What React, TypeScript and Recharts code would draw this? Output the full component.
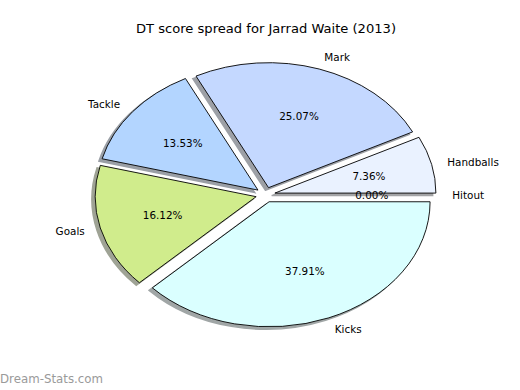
import React from 'react';
import { PieChart, Pie, Cell } from 'recharts';

// DT points per stat for the season, order follows matplotlib's counter-clockwise draw from 0deg
const CATEGORIES = ['Hitout', 'Handballs', 'Mark', 'Tackle', 'Goals', 'Kicks'];
const POINTS = [0, 74, 252, 136, 162, 381];

const COLORS = ['#d8e4ff', '#eaf2ff', '#c4d8ff', '#b3d5ff', '#d0ec8c', '#daffff'];

const data = CATEGORIES.map((name, i) => ({ name, value: POINTS[i] }));

const CX = 265.5;
const CY = 194.8;
const RX = 161;
const RY = 125;
const EXPLODE = 0.06;
const RAD = Math.PI / 180;

function shadowColor(hex: string) {
  const n = parseInt(hex.slice(1), 16);
  const ch = [(n >> 16) & 255, (n >> 8) & 255, n & 255].map((c) => Math.round(c * 0.3 * 0.5 + 255 * 0.5));
  return `rgb(${ch[0]},${ch[1]},${ch[2]})`;
}

function wedgePath(cx: number, cy: number, rx: number, ry: number, start: number, end: number) {
  const x1 = cx + rx * Math.cos(start * RAD);
  const y1 = cy - ry * Math.sin(start * RAD);
  if (Math.abs(end - start) < 1e-6) return `M${cx},${cy}L${x1},${y1}Z`;
  const x2 = cx + rx * Math.cos(end * RAD);
  const y2 = cy - ry * Math.sin(end * RAD);
  const large = Math.abs(end - start) > 180 ? 1 : 0;
  return `M${cx},${cy}L${x1},${y1}A${rx},${ry} 0 ${large} 0 ${x2},${y2}Z`;
}

function offsetOf(mid: number) {
  return { dx: EXPLODE * RX * Math.cos(mid * RAD), dy: -EXPLODE * RY * Math.sin(mid * RAD) };
}

const makeShape = (shadow: boolean) => (props: any) => {
  const { cx, cy, outerRadius, startAngle, endAngle, midAngle, fill } = props;
  const rx = outerRadius;
  const ry = outerRadius * (RY / RX);
  const { dx, dy } = offsetOf(midAngle);
  const sx = shadow ? -0.02 * RX : 0;
  const sy = shadow ? 0.02 * RY : 0;
  const d = wedgePath(cx + dx + sx, cy + dy + sy, rx, ry, startAngle, endAngle);
  if (shadow) return <path d={d} fill={shadowColor(fill)} stroke={shadowColor(fill)} strokeWidth={1.5} />;
  return <path d={d} fill={fill} stroke="#000" strokeWidth={0.9} strokeLinejoin="round" />;
};

const renderLabel = (props: any) => {
  const { cx, cy, midAngle, outerRadius, percent, name } = props;
  const cos = Math.cos(midAngle * RAD);
  const sin = Math.sin(midAngle * RAD);
  const rx = outerRadius;
  const ry = outerRadius * (RY / RX);
  const { dx, dy } = offsetOf(midAngle);
  const lx = cx + dx + 1.1 * rx * cos;
  const ly = cy + dy - 1.1 * ry * sin;
  const px = cx + dx + 0.6 * rx * cos;
  const py = cy + dy - 0.6 * ry * sin;
  return (
    <g style={{ fontFamily: 'DejaVu Sans', fontSize: 10.4 }}>
      <text x={lx} y={ly} textAnchor={cos >= 0 ? 'start' : 'end'} dominantBaseline="central" fill="#000">
        {name}
      </text>
      <text x={px} y={py} textAnchor="middle" dominantBaseline="central" fill="#000">
        {(percent * 100).toFixed(2)}%
      </text>
    </g>
  );
};

export default function App() {
  return (
    <div style={{ position: 'relative', width: 520, height: 390, background: '#fff' }}>
      <style>{'body{margin:0}'}</style>
      <div
        style={{
          position: 'absolute', left: 0, top: 21, width: 532, textAlign: 'center',
          fontFamily: 'DejaVu Sans', fontSize: 13.1, color: '#000',
        }}
      >
        DT score spread for Jarrad Waite (2013)
      </div>
      <PieChart width={520} height={390} margin={{ top: 0, right: 0, bottom: 0, left: 0 }}>
        <Pie
          data={data}
          dataKey="value"
          nameKey="name"
          cx={CX}
          cy={CY}
          outerRadius={RX}
          startAngle={0}
          endAngle={360}
          shape={makeShape(true)}
          isAnimationActive={false}
          label={false}
          labelLine={false}
        >
          {data.map((d, i) => <Cell key={d.name} fill={COLORS[i]} />)}
        </Pie>
        <Pie
          data={data}
          dataKey="value"
          nameKey="name"
          cx={CX}
          cy={CY}
          outerRadius={RX}
          startAngle={0}
          endAngle={360}
          shape={makeShape(false)}
          isAnimationActive={false}
          label={renderLabel}
          labelLine={false}
        >
          {data.map((d, i) => <Cell key={d.name} fill={COLORS[i]} />)}
        </Pie>
      </PieChart>
      <div
        style={{
          position: 'absolute', left: 0, top: 372, fontFamily: 'DejaVu Sans',
          fontSize: 11.8, color: '#9a9a9a',
        }}
      >
        Dream-Stats.com
      </div>
    </div>
  );
}
